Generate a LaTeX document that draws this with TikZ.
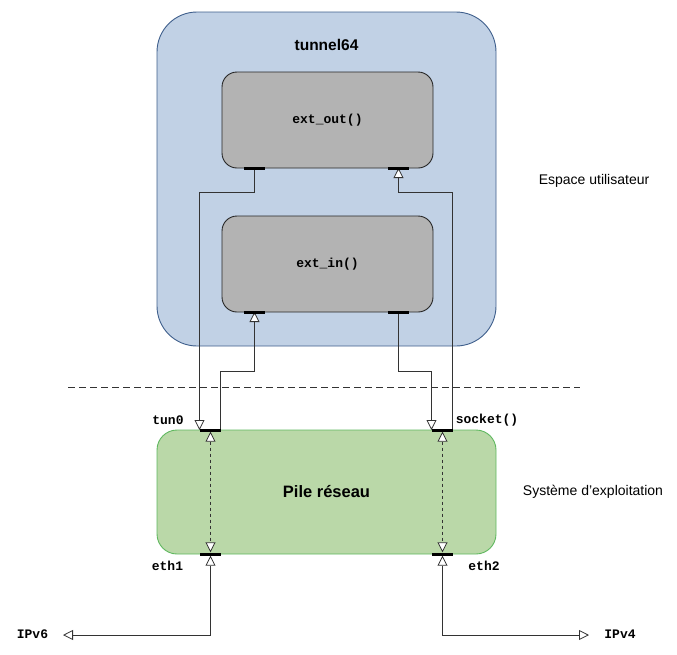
\documentclass[tikz,border=0pt]{standalone}
\usepackage{fontspec}
\setmainfont{Liberation Sans}
\setmonofont{Liberation Mono}
\usetikzlibrary{arrows.meta,calc}
\definecolor{bluefill}{HTML}{C1D1E5}
\definecolor{bluedraw}{HTML}{3F5F8C}
\definecolor{greenfill}{HTML}{BAD8A8}
\definecolor{greendraw}{HTML}{5FB85F}
\definecolor{greyfill}{HTML}{B3B3B3}
\definecolor{linec}{HTML}{333333}
\tikzset{
  outerbox/.style={draw=bluedraw, fill=bluefill, line width=0.9pt, rounded corners=40pt, minimum width=339pt, minimum height=334pt, inner sep=0pt},
  funbox/.style={draw=black!85, fill=greyfill, line width=0.9pt, rounded corners=15pt, minimum width=211pt, minimum height=96pt, inner sep=0pt, font=\ttfamily\bfseries\fontsize{13}{15}\selectfont},
  netbox/.style={draw=greendraw, fill=greenfill, line width=0.9pt, rounded corners=20pt, minimum width=339pt, minimum height=124pt, inner sep=0pt},
  portbar/.style={fill=black, draw=none, minimum width=21pt, minimum height=3pt, inner sep=0pt},
  conn/.style={draw=linec, line width=0.9pt},
  otip/.tip={Triangle[open, fill=white, length=10pt, width=10pt, line width=0.8pt]},
  monolabel/.style={font=\ttfamily\bfseries\fontsize{13}{15}\selectfont, inner sep=0pt},
  sidelabel/.style={font=\fontsize{14}{16}\selectfont, inner sep=0pt},
}
\begin{document}
\begin{tikzpicture}[x=1pt,y=-1pt]
\useasboundingbox (0,0) rectangle (677,654);
% boxes
\node[outerbox] (user) at (326.5,179) {};
\node[font=\bfseries\fontsize{15.5}{18}\selectfont] (title) at (326.5,45) {tunnel64};
\node[funbox] (extout) at (327.5,120) {ext\_out()};
\node[funbox] (extin) at (327.5,264) {ext\_in()};
\node[netbox] (net) at (326.5,492) {};
\node[font=\bfseries\fontsize{16.5}{19}\selectfont] (pile) at (326.5,492) {Pile réseau};
% separator
\coordinate (sepL) at (68,387);
\coordinate (sepR) at (580,387);
\draw[dash pattern=on 7pt off 4pt, line width=0.9pt, draw=linec] (sepL) -- (sepR);
% side labels
\node[sidelabel] (esp) at (594,181) {Espace utilisateur};
\node[sidelabel] (sys) at (593,492) {Système d’exploitation};
% bend levels
\coordinate (yA) at (0,192);
\coordinate (yB) at (0,371);
% connectors
\draw[conn, -otip] (254.5,168) coordinate (c1s) -- (c1s |- yA) -| (199.5,430) coordinate (c1e);
\draw[conn, -otip] (220.5,430) coordinate (c2s) -- (c2s |- yB) -| (254.5,312) coordinate (c2e);
\draw[conn, -otip] (398.5,312) coordinate (c3s) -- (c3s |- yB) -| (431.5,430) coordinate (c3e);
\draw[conn, -otip] (452.5,430) coordinate (c4s) -- (c4s |- yA) -| (398.5,168) coordinate (c4e);
% ports
\node[portbar] (outL) at (254.5,168) {};
\node[portbar] (outR) at (398.5,168) {};
\node[portbar] (inL) at (254.5,312) {};
\node[portbar] (inR) at (398.5,312) {};
\node[portbar] (tun) at (210.5,430) {};
\node[portbar] (sock) at (442.5,430) {};
\node[portbar] (eth1) at (210.5,554) {};
\node[portbar] (eth2) at (442.5,554) {};
% dashed internal
\draw[conn, dashed, otip-otip] (tun.south) -- (eth1.north);
\draw[conn, dashed, otip-otip] (sock.south) -- (eth2.north);
% external
\coordinate (tip6) at (63,635);
\coordinate (tip4) at (589,635);
\draw[conn, otip-otip] (eth1.south) |- (tip6);
\draw[conn, otip-otip] (eth2.south) |- (tip4);
% port labels
\node[monolabel] (ltun) at (168,420) {tun0};
\node[monolabel] (lsock) at (487,420) {socket()};
\node[monolabel] (leth1) at (167.5,566) {eth1};
\node[monolabel] (leth2) at (484,566) {eth2};
\node[monolabel] (lv6) at (32.5,634) {IPv6};
\node[monolabel] (lv4) at (620,634) {IPv4};
\end{tikzpicture}
\end{document}
